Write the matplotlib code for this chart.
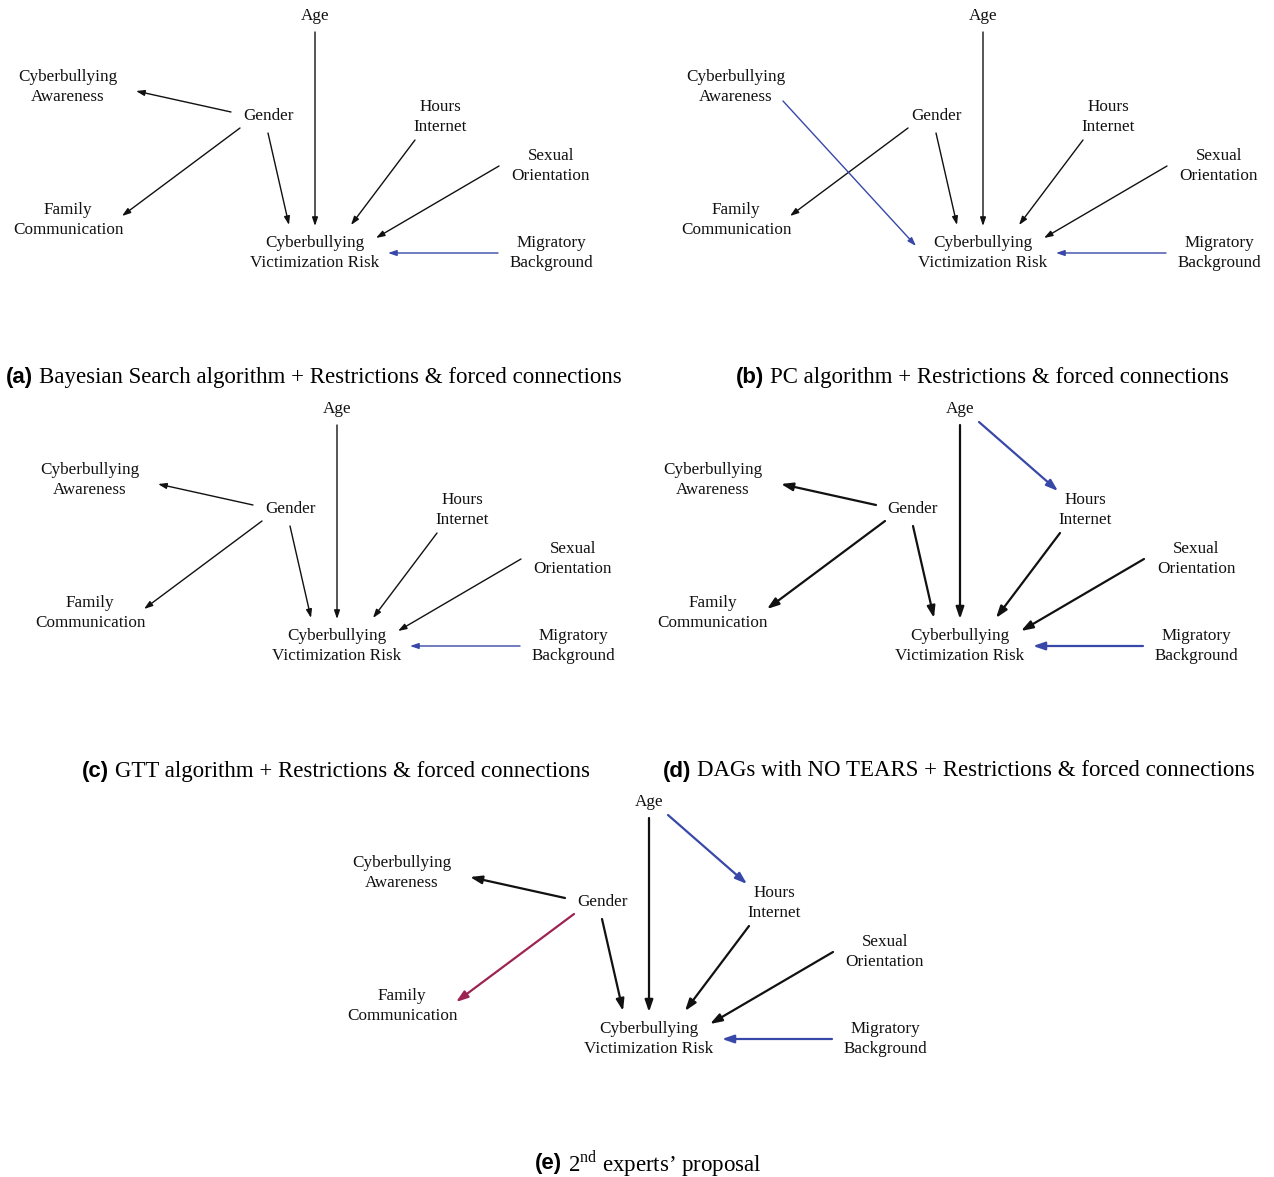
"""
Causal DAGs for cyberbullying victimization risk, five panels (a-e).
Output: out.png
"""

import matplotlib
matplotlib.use("Agg")
import matplotlib.pyplot as plt

plt.rcParams["mathtext.fontset"] = "custom"
plt.rcParams["mathtext.rm"] = "Liberation Serif"

SERIF = "Liberation Serif"
SANS = "Liberation Sans"

BLACK = "#111111"
BLUE = "#3848a8"
RED = "#9c2352"

# node labels and their position relative to the "Age" label (pixels)
NODE_NAMES = ["Age", "Awareness", "Gender", "Hours", "Sexual",
              "Family", "Risk", "Migratory"]
NODE_LABELS = ["Age", "Cyberbullying\nAwareness", "Gender", "Hours\nInternet",
               "Sexual\nOrientation", "Family\nCommunication",
               "Cyberbullying\nVictimization Risk", "Migratory\nBackground"]
NODE_DX = [0, -247, -47, 125, 236, -247, 0, 236]
NODE_DY = [0, 71, 100, 101, 150, 204, 237, 237]

# edge geometry: (tail dx, tail dy, head dx, head dy) relative to "Age"
EDGE_GEOM = {
    ("Gender", "Awareness"): (-84, 96, -179, 75),
    ("Gender", "Family"): (-75, 112, -193, 200),
    ("Gender", "Risk"): (-47, 117, -26, 209),
    ("Age", "Risk"): (0, 16, 0, 210),
    ("Hours", "Risk"): (100, 124, 36, 209),
    ("Sexual", "Risk"): (184, 150, 61, 222),
    ("Migratory", "Risk"): (183, 237, 73, 237),
    ("Awareness", "Risk"): (-200, 85, -67, 230),
    ("Age", "Hours"): (19, 13, 98, 82),
}

COMMON = [(("Gender", "Family"), BLACK), (("Gender", "Risk"), BLACK),
          (("Age", "Risk"), BLACK), (("Hours", "Risk"), BLACK),
          (("Sexual", "Risk"), BLACK), (("Migratory", "Risk"), BLUE)]

PANEL_TAGS = ["(a)", "(b)", "(c)", "(d)", "(e)"]
PANEL_TITLES = [
    "Bayesian Search algorithm + Restrictions & forced connections",
    "PC algorithm + Restrictions & forced connections",
    "GTT algorithm + Restrictions & forced connections",
    "DAGs with NO TEARS + Restrictions & forced connections",
    r"2$^{\mathrm{nd}}$ experts’ proposal",
]
PANEL_ORIGIN = [(315, 16), (983, 16), (337, 409), (960, 409), (649, 802)]
PANEL_EDGES = [
    COMMON + [(("Gender", "Awareness"), BLACK)],
    COMMON + [(("Awareness", "Risk"), BLUE)],
    COMMON + [(("Gender", "Awareness"), BLACK)],
    COMMON + [(("Gender", "Awareness"), BLACK), (("Age", "Hours"), BLUE)],
    [(("Gender", "Family"), RED)] + COMMON[1:]
    + [(("Gender", "Awareness"), BLACK), (("Age", "Hours"), BLUE)],
]
PANEL_THICK = [False, False, False, True, True]
CAPTION_DY = 362


def draw_panel(ax, origin, edges, thick):
    ox, oy = origin
    for name, label, dx, dy in zip(NODE_NAMES, NODE_LABELS, NODE_DX, NODE_DY):
        ax.text(ox + dx, oy + dy, label, ha="center", va="center",
                family=SERIF, fontsize=12.3, linespacing=1.38, color="#111111")
    if thick:
        style, lw = "-|>,head_length=0.7,head_width=0.24", 1.6
    else:
        style, lw = "-|>,head_length=0.5,head_width=0.17", 1.0
    for key, color in edges:
        tx, ty, hx, hy = EDGE_GEOM[key]
        ax.annotate("", xy=(ox + hx, oy + hy), xytext=(ox + tx, oy + ty),
                    arrowprops=dict(arrowstyle=style, color=color, lw=lw,
                                    shrinkA=0, shrinkB=0, mutation_scale=10))


def draw_caption(fig, ax, cx, cy, tag, title):
    r = fig.canvas.get_renderer()
    t1 = ax.text(0, cy, tag, family=SANS, fontweight="bold", fontsize=16,
                 ha="left", va="center")
    t2 = ax.text(0, cy, title, family=SERIF, fontsize=16.5,
                 ha="left", va="center")
    w1 = t1.get_window_extent(r).width
    w2 = t2.get_window_extent(r).width
    gap = 6
    x0 = cx - (w1 + gap + w2) / 2
    t1.set_x(x0)
    t2.set_x(x0 + w1 + gap)


def main():
    fig = plt.figure(figsize=(12.74, 11.77), dpi=100)
    ax = fig.add_axes([0, 0, 1, 1])
    ax.set_xlim(0, 1274)
    ax.set_ylim(1177, 0)
    ax.axis("off")

    for i in range(5):
        draw_panel(ax, PANEL_ORIGIN[i], PANEL_EDGES[i], PANEL_THICK[i])
        ox, oy = PANEL_ORIGIN[i]
        draw_caption(fig, ax, ox - 1, oy + CAPTION_DY,
                     PANEL_TAGS[i], PANEL_TITLES[i])

    fig.savefig("out.png", dpi=100)
    plt.close(fig)


if __name__ == "__main__":
    main()
